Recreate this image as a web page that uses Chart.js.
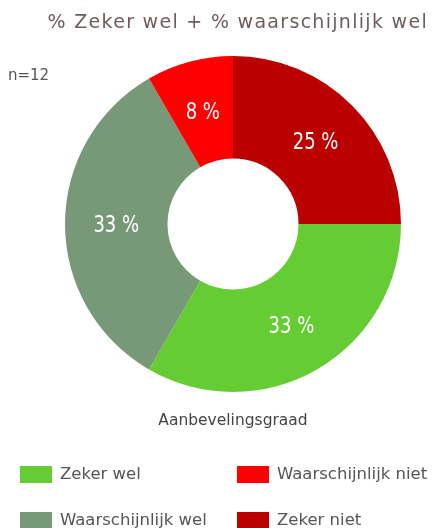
<!DOCTYPE html>
<html>
<head>
<meta charset="utf-8">
<script src="https://cdn.jsdelivr.net/npm/chart.js@4"></script>
<style>
  html, body { margin: 0; padding: 0; background: #fff; }
  #wrap { width: 434px; height: 528px; position: relative; }
</style>
</head>
<body>
<div id="wrap"><canvas id="aanbevelingChart"></canvas></div>
<script>
// slices in drawing order, clockwise from 12 o'clock
const categories = ["Zeker niet", "Zeker wel", "Waarschijnlijk wel", "Waarschijnlijk niet"];
const counts = [3, 4, 4, 1];
const colors = ["#bb0000", "#66cc33", "#779977", "#ff0000"];
// legend reads in this order (two columns)
const legendOrder = ["Zeker wel", "Waarschijnlijk niet", "Waarschijnlijk wel", "Zeker niet"];

const total = counts.reduce((a, b) => a + b, 0);

const textPlugin = {
  id: "texts",
  afterDraw(chart) {
    const ctx = chart.ctx;
    ctx.save();

    // percentage labels on the slices (narrow face, squeezed a bit)
    const arcs = chart.getDatasetMeta(0).data;
    ctx.fillStyle = "#ffffff";
    ctx.font = "23px 'DejaVu Sans Condensed', 'DejaVu Sans', sans-serif";
    ctx.textAlign = "center";
    ctx.textBaseline = "middle";
    arcs.forEach((arc, i) => {
      const p = arc.tooltipPosition();
      const pct = Math.round(counts[i] / total * 100);
      ctx.save();
      ctx.translate(p.x, p.y + 2);
      ctx.scale(0.87, 1);
      ctx.fillText(pct + " %", 0, 0);
      ctx.restore();
    });

    // title
    ctx.fillStyle = "#6e5d5d";
    ctx.font = "19px 'DejaVu Sans', sans-serif";
    ctx.letterSpacing = "1.3px";
    ctx.textAlign = "right";
    ctx.fillText("% Zeker wel + % waarschijnlijk wel", 428, 23);
    ctx.letterSpacing = "0px";

    // n
    ctx.fillStyle = "#555555";
    ctx.font = "15px 'DejaVu Sans', sans-serif";
    ctx.textAlign = "left";
    ctx.fillText("n=" + total, 8, 76);

    // subtitle
    ctx.fillStyle = "#444444";
    ctx.font = "15.5px 'DejaVu Sans', sans-serif";
    ctx.textAlign = "center";
    ctx.fillText("Aanbevelingsgraad", 233, 421);

    // legend
    ctx.font = "16.5px 'DejaVu Sans', sans-serif";
    ctx.textAlign = "left";
    const colX = [20, 237];
    const rowY = [474, 520];
    legendOrder.forEach((name, k) => {
      const idx = categories.indexOf(name);
      const x = colX[k % 2];
      const y = rowY[Math.floor(k / 2)];
      ctx.fillStyle = colors[idx];
      ctx.fillRect(x, y - 8, 32, 17);
      ctx.fillStyle = "#555555";
      ctx.fillText(name, x + 40, y + 1);
    });

    ctx.restore();
  }
};

new Chart(document.getElementById("aanbevelingChart").getContext("2d"), {
  type: "doughnut",
  data: {
    labels: categories,
    datasets: [{
      data: counts,
      backgroundColor: colors,
      borderWidth: 0,
    }],
  },
  options: {
    responsive: true,
    maintainAspectRatio: false,
    animation: false,
    cutout: "39%",
    layout: { padding: { top: 56, bottom: 136, left: 65, right: 33 } },
    plugins: {
      legend: { display: false },
      tooltip: { enabled: false },
    },
  },
  plugins: [textPlugin],
});
</script>
</body>
</html>
